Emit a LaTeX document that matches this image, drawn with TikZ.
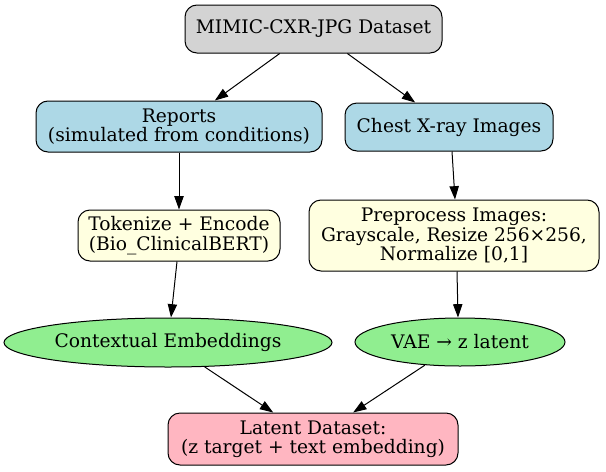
\documentclass[tikz,border=0pt]{standalone}
\usepackage{fontspec}
\setmainfont{DejaVu Serif}
\usetikzlibrary{shapes.geometric,arrows.meta}

\definecolor{boxgray}{HTML}{D3D3D3}
\definecolor{boxblue}{HTML}{ADD8E6}
\definecolor{boxyellow}{HTML}{FFFFE0}
\definecolor{boxgreen}{HTML}{90EE90}
\definecolor{boxpink}{HTML}{FFB6C1}

\tikzset{every picture/.style={line width=0.75pt}}
\tikzset{
  rbox/.style={draw, rounded corners=9pt, align=center, inner sep=0pt,
    font=\fontsize{14}{14.5}\selectfont},
  oval/.style={draw, ellipse, align=center, inner sep=0pt,
    font=\fontsize{14}{14.5}\selectfont},
  flow/.style={-{Triangle[length=10pt,width=7pt]}}
}

\begin{document}
\begin{tikzpicture}[x=0.75pt,y=0.75pt,yscale=-1,xscale=1]
	\useasboundingbox (0,0) rectangle (606,471);

	% Source Node
	\node [rbox, fill=boxgray, minimum width=192.75pt, minimum height=36pt] (mimic) at (313.5,29) {MIMIC-CXR-JPG Dataset};
	% Text Branch
	\node [rbox, fill=boxblue, minimum width=214.5pt, minimum height=38.25pt] (reports) at (179,126.5) {Reports\\(simulated from conditions)};
	\node [rbox, fill=boxyellow, minimum width=151.5pt, minimum height=38.25pt] (tokenize) at (179,235.5) {Tokenize + Encode\\(Bio\_ClinicalBERT)};
	\node [oval, fill=boxgreen, minimum width=246pt, minimum height=36.75pt] (embed) at (168,342.5) {Contextual Embeddings};
	% Image Branch
	\node [rbox, fill=boxblue, minimum width=156pt, minimum height=36pt] (xray) at (449,127) {Chest X-ray Images};
	\node [rbox, fill=boxyellow, minimum width=217.5pt, minimum height=53.25pt] (preproc) at (454,235.5) {Preprocess Images:\\Grayscale, Resize 256×256,\\Normalize [0,1]};
	\node [oval, fill=boxgreen, minimum width=157.5pt, minimum height=36pt] (vae) at (460,342) {VAE → z latent};
	% Output Node
	\node [rbox, fill=boxpink, minimum width=217.5pt, minimum height=39pt] (latent) at (313,439) {Latent Dataset:\\(z target + text embedding)};

	% Edges
	\draw [flow] (mimic) -- (reports);
	\draw [flow] (mimic) -- (xray);
	\draw [flow] (reports) -- (tokenize);
	\draw [flow] ([xshift=-1.5pt]tokenize.south) -- ([xshift=2.25pt]embed.north);
	\draw [flow] ([xshift=2.25pt]xray.south) -- ([xshift=0.75pt]preproc.north);
	\draw [flow] ([xshift=2.25pt]preproc.south) -- ([xshift=-1.5pt]vae.north);
	\draw [flow] (embed) -- (latent);
	\draw [flow] (vae) -- (latent);

\end{tikzpicture}
\end{document}
